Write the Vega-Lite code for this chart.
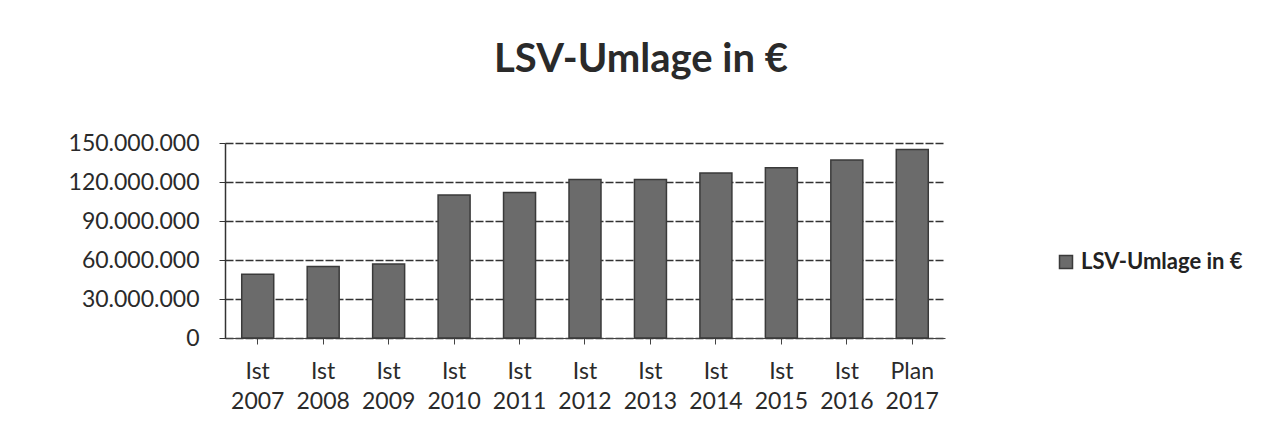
{
  "$schema": "https://vega.github.io/schema/vega-lite/v6.json",
  "width": 720,
  "height": 195,
  "autosize": {"type": "none"},
  "padding": {"left": 225, "top": 143, "right": 328, "bottom": 94},
  "background": "white",
  "config": {
    "locale": {"number": {"decimal": ",", "thousands": ".", "grouping": [3], "currency": ["", " €"]}},
    "font": "Lato",
    "view": {"stroke": null}
  },
  "title": {
    "text": "LSV-Umlage in €",
    "fontSize": 40,
    "fontWeight": "bold",
    "font": "Lato",
    "color": "#2a2a2a",
    "anchor": "middle",
    "dx": 56,
    "offset": 52
  },
  "data": {
    "values": [
      {"label": "Ist 2007", "value": 49000000, "series": "LSV-Umlage in €"},
      {"label": "Ist 2008", "value": 55000000, "series": "LSV-Umlage in €"},
      {"label": "Ist 2009", "value": 57000000, "series": "LSV-Umlage in €"},
      {"label": "Ist 2010", "value": 110000000, "series": "LSV-Umlage in €"},
      {"label": "Ist 2011", "value": 112000000, "series": "LSV-Umlage in €"},
      {"label": "Ist 2012", "value": 122000000, "series": "LSV-Umlage in €"},
      {"label": "Ist 2013", "value": 122000000, "series": "LSV-Umlage in €"},
      {"label": "Ist 2014", "value": 127000000, "series": "LSV-Umlage in €"},
      {"label": "Ist 2015", "value": 131000000, "series": "LSV-Umlage in €"},
      {"label": "Ist 2016", "value": 137000000, "series": "LSV-Umlage in €"},
      {"label": "Plan 2017", "value": 145000000, "series": "LSV-Umlage in €"}
    ]
  },
  "mark": {"type": "bar", "size": 32, "stroke": "#3a3a3a", "strokeWidth": 1.5},
  "encoding": {
    "x": {
      "field": "label",
      "type": "nominal",
      "sort": null,
      "title": null,
      "axis": {
        "labelAngle": 0,
        "labelExpr": "split(datum.label, ' ')",
        "labelFontSize": 23,
        "labelColor": "#2a2a2a",
        "labelPadding": 16,
        "labelLineHeight": 30,
        "domainColor": "#444444",
        "tickColor": "#444444",
        "tickSize": 6,
        "labelBaseline": "top"
      }
    },
    "y": {
      "field": "value",
      "type": "quantitative",
      "title": null,
      "scale": {"domain": [0, 150000000], "nice": false},
      "axis": {
        "values": [0, 30000000, 60000000, 90000000, 120000000, 150000000],
        "format": ",.0f",
        "labelFontSize": 23,
        "labelColor": "#2a2a2a",
        "labelPadding": 20,
        "domainColor": "#333333",
        "domainWidth": 1.5,
        "tickColor": "#333333",
        "tickSize": 6,
        "gridColor": "#333333",
        "gridDash": [8, 2],
        "gridWidth": 1.5
      }
    },
    "color": {
      "field": "series",
      "type": "nominal",
      "scale": {"range": ["#6b6b6b"]},
      "legend": {
        "title": null,
        "orient": "none",
        "legendX": 830,
        "legendY": 108,
        "symbolType": "square",
        "symbolSize": 169,
        "labelFontSize": 22,
        "labelLimit": 400,
        "labelColor": "#222222",
        "labelFontWeight": "bold"
      }
    }
  }
}
